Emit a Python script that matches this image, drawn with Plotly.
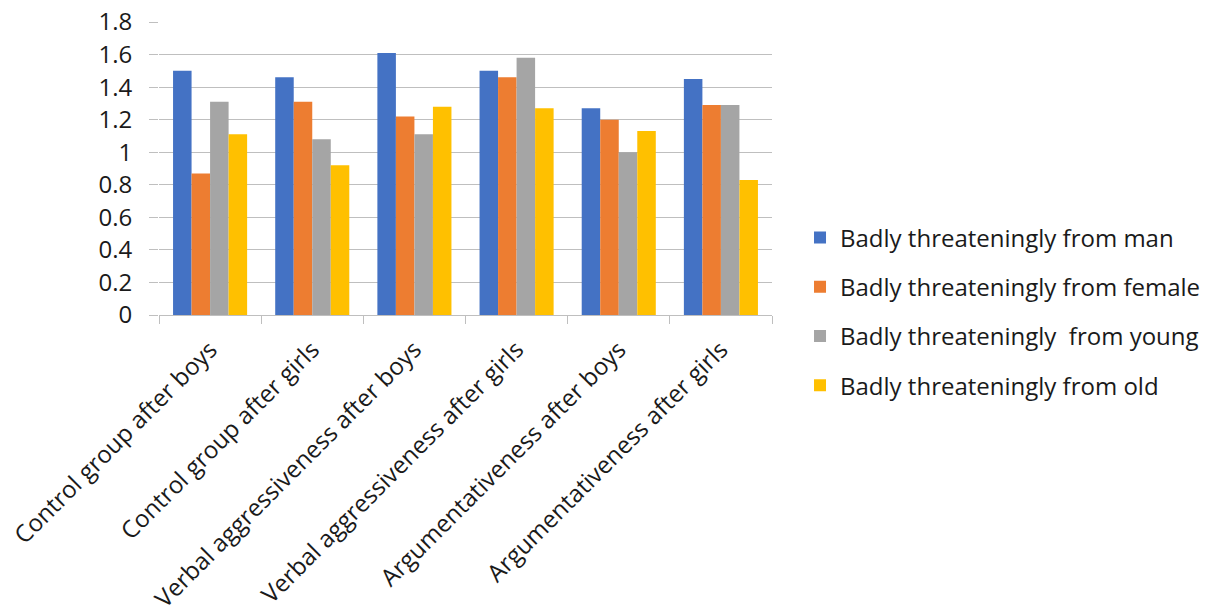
import plotly.graph_objects as go

categories = [
    "Control group after boys",
    "Control group after girls",
    "Verbal aggressiveness after boys",
    "Verbal aggressiveness after girls",
    "Argumentativeness after boys",
    "Argumentativeness after girls",
]
series_names = [
    "Badly threateningly from man",
    "Badly threateningly from female",
    "Badly threateningly  from young",
    "Badly threateningly from old",
]
from_man = [1.50, 1.46, 1.61, 1.50, 1.27, 1.45]
from_female = [0.87, 1.31, 1.22, 1.46, 1.20, 1.29]
from_young = [1.31, 1.08, 1.11, 1.58, 1.00, 1.29]
from_old = [1.11, 0.92, 1.28, 1.27, 1.13, 0.83]
y_ticks = [0, 0.2, 0.4, 0.6, 0.8, 1, 1.2, 1.4, 1.6, 1.8]
y_tick_labels = ["0", "0.2", "0.4", "0.6", "0.8", "1", "1.2", "1.4", "1.6", "1.8"]

colors = ["#4472C4", "#ED7D31", "#A5A5A5", "#FFC000"]
values = [from_man, from_female, from_young, from_old]

FONT = "Open Sans"
FS = 24
fig = go.Figure()
for i, (name, vals) in enumerate(zip(series_names, values)):
    fig.add_trace(go.Bar(
        x=categories, y=vals, name=name,
        marker=dict(color=colors[i], line=dict(width=0)),
        legendgroup=str(i),
    ))

fig.update_layout(
    width=1219, height=613,
    margin=dict(l=159, r=447, t=22, b=298, pad=0),
    paper_bgcolor="white", plot_bgcolor="white",
    barmode="group", bargap=0.275, bargroupgap=0,
    font=dict(family=FONT, size=FS, color="#1a1a1a"),
    legend=dict(
        x=1.0457, y=0.012, xanchor="left", yanchor="middle",
        font=dict(family=FONT, size=FS, color="#1a1a1a"),
        tracegroupgap=15, itemwidth=30, bgcolor="rgba(0,0,0,0)",
    ),
    showlegend=True,
)
fig.update_xaxes(
    type="category", tickangle=-45, automargin=False,
    showline=True, linecolor="#BFBFBF", linewidth=1,
    ticks="outside", tickson="boundaries", ticklen=8, tickcolor="#BFBFBF",
    ticklabelstandoff=10,
    showgrid=False, tickfont=dict(family=FONT, size=FS, color="#1a1a1a"),
)
fig.update_yaxes(
    range=[0, 1.8], tickvals=y_ticks, ticktext=y_tick_labels, automargin=False,
    showgrid=True, gridcolor="#BFBFBF", gridwidth=1,
    ticks="outside", ticklen=9, tickcolor="#BFBFBF",
    ticklabelstandoff=12,
    showline=False, zeroline=True, zerolinecolor="#BFBFBF", zerolinewidth=1,
    tickfont=dict(family=FONT, size=FS, color="#1a1a1a"),
)
fig.write_html("out.html")
